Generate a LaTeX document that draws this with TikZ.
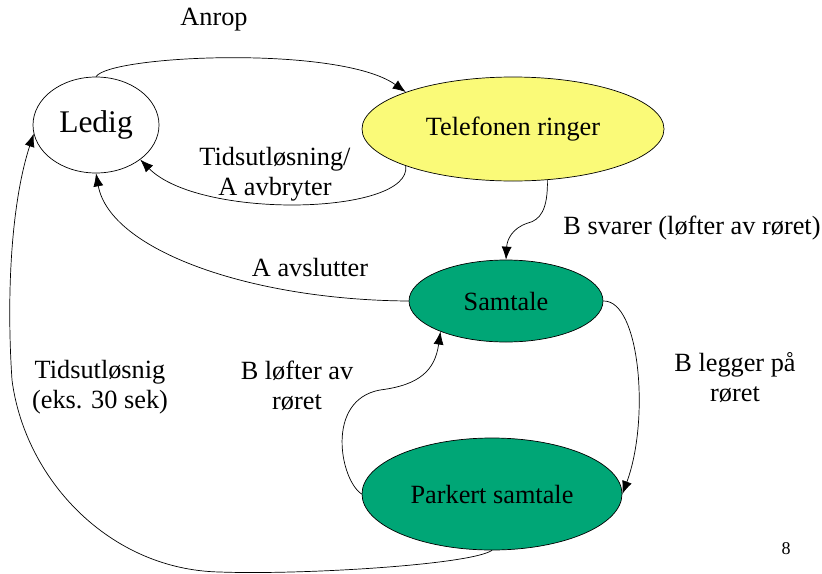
\documentclass[tikz,border=0pt]{standalone}
\usepackage{fontspec}
\setmainfont{Liberation Serif}
\usepackage{xcolor}
\usetikzlibrary{positioning,arrows.meta,shapes.geometric}
\definecolor{ringyellow}{RGB}{250,250,120}
\definecolor{talkgreen}{RGB}{0,166,118}
\tikzset{
  state/.style={ellipse, draw=black, line width=0.7pt, inner sep=0pt},
  trans/.style={line width=0.7pt, -{Latex[length=13pt,width=10pt]}},
  lbl/.style={align=center, inner sep=0pt}
}

\begin{document}
\begin{tikzpicture}[x=1pt, y=-1pt, font=\fontsize{26.3}{30}\selectfont]
  \useasboundingbox (0,0) rectangle (822,573);

  % ---- States ----
  \node[state, fill=white, minimum width=126pt, minimum height=96pt,
        font=\fontsize{31.5}{36}\selectfont] (ledig) at (96,125) {Ledig};
  \node[state, fill=ringyellow, minimum width=302pt, minimum height=104pt] (tele) at (513,129) {Telefonen ringer};
  \node[state, fill=talkgreen, minimum width=194pt, minimum height=82pt] (samtale) at (506,301) {Samtale};
  \node[state, fill=talkgreen, minimum width=260pt, minimum height=112pt] (parkert) at (492,494) {Parkert samtale};

  % ---- Transitions ----
  \draw[trans] (ledig.north) .. controls (110,55) and (340,45) .. (tele.161);
  \draw[trans] (tele.199) .. controls (412,215) and (200,220) .. (ledig.322);
  \draw[trans] (tele.304) .. controls (548,210) and (540,220) .. (528,223)
                .. controls (512,228) and (507,240) .. (samtale.north);
  \draw[trans] (samtale.west) .. controls (250,300) and (110,250) .. (ledig.south);
  \draw[trans] (samtale.east) .. controls (640,300) and (650,420) .. (parkert.east);
  \draw[trans] (parkert.west) .. controls (340,480) and (325,400) .. (380,390)
                .. controls (420,385) and (435,370) .. (samtale.205);
  \draw[trans] (parkert.south) .. controls (470,565) and (300,575) .. (220,572)
                .. controls (110,570) and (25,480) .. (12,380)
                .. controls (6,290) and (12,200) .. (ledig.188);

  % ---- Labels ----
  \node[lbl] (lanrop) at (214,20) {Anrop};
  \node[lbl] (ltid) at (275,174) {Tidsutløsning/\\A avbryter};
  \node[lbl] (lsvar) at (692,228) {B svarer (løfter av røret)};
  \node[lbl] (lavsl) at (310,268) {A avslutter};
  \node[lbl] (lloft) at (297,386) {B løfter av\\røret};
  \node[lbl] (llegg) at (735,378) {B legger på\\røret};
  \node[lbl] (ltidp) at (100,387) {Tidsutløsnig\\(eks. 30 sek)};
  \node[lbl, font=\fontsize{18}{20}\selectfont] (page) at (786,549) {8};
\end{tikzpicture}
\end{document}
